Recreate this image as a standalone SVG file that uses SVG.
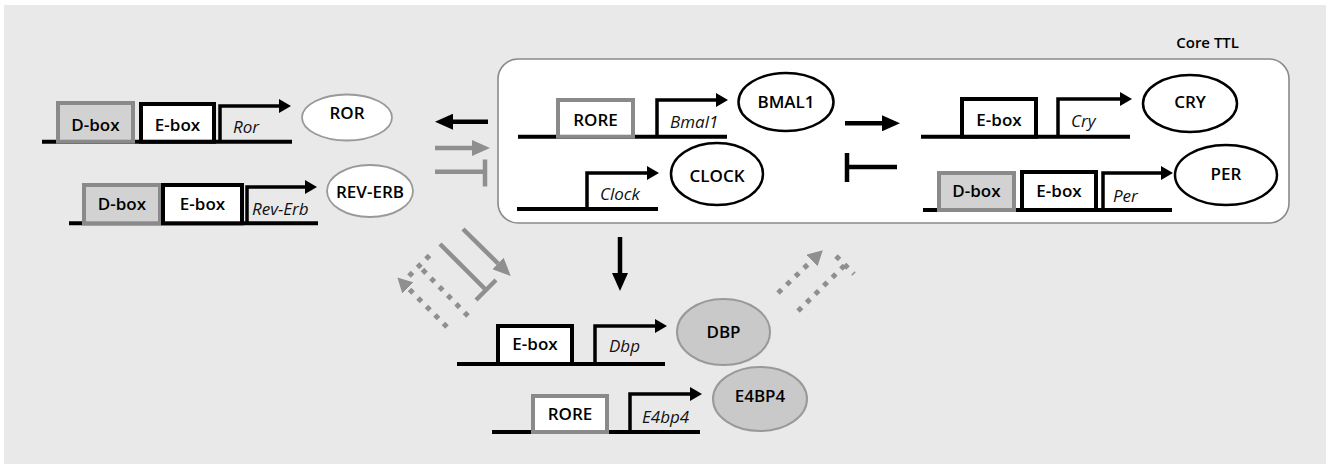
<svg xmlns="http://www.w3.org/2000/svg" width="1330" height="465" viewBox="0 0 1330 465">
<style>
.bg{fill:#e9e9ea}
.dna{stroke:#000;stroke-width:4;fill:none}
.prom{stroke:#000;stroke-width:3.5;fill:none}
.ebox{fill:#fff;stroke:#000;stroke-width:4}
.dbox{fill:#d2d2d2;stroke:#8a8a8a;stroke-width:4}
.rore{fill:#fff;stroke:#8a8a8a;stroke-width:4}
.lbl{font-family:"Open Sans","Noto Sans",sans-serif;font-weight:600;font-size:17px;fill:#000;text-anchor:middle}
.gene{font-family:"Open Sans","Noto Sans",sans-serif;font-style:italic;font-size:17px;fill:#111}
.pw{fill:#fff;stroke:#999;stroke-width:1.8}
.pb{fill:#fff;stroke:#000;stroke-width:2.5}
.pg{fill:#c9c9c9;stroke:#999;stroke-width:2}
.blk{stroke:#000;stroke-width:4.5;fill:none}
.gry{stroke:#8f8f8f;stroke-width:4.5;fill:none}
.dot{stroke:#8f8f8f;stroke-width:5;fill:none;stroke-dasharray:5 7}
</style>
<defs>
<marker id="ph" markerUnits="userSpaceOnUse" viewBox="0 0 12 14" refX="0" refY="7" markerWidth="12" markerHeight="14" orient="auto"><path d="M0,0 L12,7 L0,14 z" fill="#000"/></marker>
<marker id="bh" markerUnits="userSpaceOnUse" viewBox="0 0 18 16" refX="0" refY="8" markerWidth="18" markerHeight="16" orient="auto"><path d="M0,0 L18,8 L0,16 z" fill="#000"/></marker>
<marker id="gh" markerUnits="userSpaceOnUse" viewBox="0 0 18 16" refX="0" refY="8" markerWidth="18" markerHeight="16" orient="auto"><path d="M0,0 L18,8 L0,16 z" fill="#8f8f8f"/></marker>
<marker id="gdh" markerUnits="userSpaceOnUse" viewBox="0 0 15 16" refX="0" refY="8" markerWidth="15" markerHeight="16" orient="auto"><path d="M0,0 L15,8 L0,16 z" fill="#8f8f8f"/></marker>
</defs>
<rect class="bg" x="4" y="5" width="1322" height="459"/>

<text x="1239" y="48" style="font-family:'Open Sans','Noto Sans',sans-serif;font-weight:600;font-size:15px;text-anchor:end">Core TTL</text>
<rect id="core-ttl" x="498" y="59" width="791" height="164" rx="20" fill="#fff" stroke="#8a8a8a" stroke-width="1.6"/>

<g id="ror-gene">
<line class="dna" x1="42" y1="141.7" x2="292" y2="141.7"/>
<rect class="dbox" x="58" y="103" width="75" height="38.7"/>
<rect class="ebox" x="141" y="104" width="73" height="37.7"/>
<path class="prom" d="M220,141.7 V106 H279" marker-end="url(#ph)"/>
<text class="lbl" x="95.5" y="131">D-box</text>
<text class="lbl" x="177.5" y="131">E-box</text>
<text class="gene" x="233" y="133">Ror</text>
</g>
<g id="ror">
<ellipse class="pw" cx="347" cy="117.5" rx="45" ry="23"/>
<text class="lbl" x="347" y="118.5">ROR</text>
</g>

<g id="reverb-gene">
<line class="dna" x1="69" y1="223.3" x2="318" y2="223.3"/>
<rect class="dbox" x="84" y="185" width="76" height="38.3"/>
<rect class="ebox" x="163" y="185" width="79" height="38.3"/>
<path class="prom" d="M247,223.3 V187 H305" marker-end="url(#ph)"/>
<text class="lbl" x="122" y="210">D-box</text>
<text class="lbl" x="202.5" y="210">E-box</text>
<text class="gene" x="252" y="215">Rev-Erb</text>
</g>
<g id="reverb">
<ellipse class="pw" cx="370" cy="191" rx="43" ry="26"/>
<text class="lbl" x="370" y="198">REV-ERB</text>
</g>

<g id="bmal1-gene">
<line class="dna" x1="518" y1="136.7" x2="727" y2="136.7"/>
<rect class="rore" x="558" y="100" width="75" height="36.7"/>
<path class="prom" d="M657,136.7 V100 H716" marker-end="url(#ph)"/>
<text class="lbl" x="595.5" y="125.7">RORE</text>
<text class="gene" x="670" y="128">Bmal1</text>
</g>
<g id="bmal1">
<ellipse class="pb" cx="786" cy="102" rx="47.5" ry="29"/>
<text class="lbl" x="786" y="108">BMAL1</text>
</g>

<g id="clock-gene">
<line class="dna" x1="517" y1="209" x2="658" y2="209"/>
<path class="prom" d="M587,209 V173 H647" marker-end="url(#ph)"/>
<text class="gene" x="600" y="200">Clock</text>
</g>
<g id="clock">
<ellipse class="pb" cx="717" cy="174" rx="46" ry="31"/>
<text class="lbl" x="717" y="182">CLOCK</text>
</g>

<g id="cry-gene">
<line class="dna" x1="921" y1="136.7" x2="1130" y2="136.7"/>
<rect class="ebox" x="962" y="99" width="74" height="37.7"/>
<path class="prom" d="M1058,136.7 V99 H1120" marker-end="url(#ph)"/>
<text class="lbl" x="999" y="125.7">E-box</text>
<text class="gene" x="1071" y="127">Cry</text>
</g>
<g id="cry">
<ellipse class="pb" cx="1190" cy="103.5" rx="47" ry="28.5"/>
<text class="lbl" x="1190" y="108">CRY</text>
</g>

<g id="per-gene">
<line class="dna" x1="923" y1="210" x2="1172" y2="210"/>
<rect class="dbox" x="939" y="173" width="75" height="37"/>
<rect class="ebox" x="1022" y="172" width="74" height="38"/>
<path class="prom" d="M1103,210 V173 H1161" marker-end="url(#ph)"/>
<text class="lbl" x="976.5" y="197">D-box</text>
<text class="lbl" x="1059" y="196.7">E-box</text>
<text class="gene" x="1113" y="202">Per</text>
</g>
<g id="per">
<ellipse class="pb" cx="1226" cy="175" rx="51" ry="30"/>
<text class="lbl" x="1226" y="180">PER</text>
</g>

<g id="dbp-gene">
<line class="dna" x1="457" y1="364" x2="665" y2="364"/>
<rect class="ebox" x="498" y="326" width="74" height="38"/>
<path class="prom" d="M595,364 V326 H655" marker-end="url(#ph)"/>
<text class="lbl" x="535" y="350">E-box</text>
<text class="gene" x="609" y="352">Dbp</text>
</g>
<g id="dbp">
<ellipse class="pg" cx="723.5" cy="332" rx="46.5" ry="33"/>
<text class="lbl" x="723.5" y="338">DBP</text>
</g>

<g id="e4bp4-gene">
<line class="dna" x1="492" y1="432" x2="700" y2="432"/>
<rect class="rore" x="533" y="396" width="74" height="36"/>
<path class="prom" d="M630,432 V394 H690" marker-end="url(#ph)"/>
<text class="lbl" x="570" y="420">RORE</text>
<text class="gene" x="642" y="423">E4bp4</text>
</g>
<g id="e4bp4">
<ellipse class="pg" cx="760" cy="399" rx="47" ry="32"/>
<text class="lbl" x="760" y="402">E4BP4</text>
</g>

<g id="connectors">
<line class="blk" x1="488" y1="121.7" x2="453" y2="121.7" marker-end="url(#bh)"/>
<line class="gry" x1="435" y1="148" x2="472" y2="148" marker-end="url(#gh)"/>
<line class="gry" x1="435" y1="171.7" x2="485" y2="171.7"/>
<line class="gry" x1="485" y1="159.5" x2="485" y2="186.5"/>
<line class="blk" x1="845" y1="123.3" x2="882" y2="123.3" marker-end="url(#bh)"/>
<line class="blk" x1="897" y1="167" x2="847" y2="167"/>
<line class="blk" x1="847" y1="153" x2="847" y2="182"/>
<line class="blk" x1="620" y1="237" x2="620" y2="273" marker-end="url(#bh)"/>
<line class="gry" x1="463" y1="229" x2="498" y2="263.5" marker-end="url(#gh)"/>
<line class="gry" x1="440" y1="244" x2="486" y2="290"/>
<line class="gry" x1="476" y1="300" x2="496" y2="280"/>
<line class="dot" x1="447" y1="327" x2="408" y2="288" marker-end="url(#gdh)"/>
<line class="dot" x1="468" y1="316" x2="419" y2="266"/>
<line class="dot" x1="409" y1="276" x2="430" y2="255"/>
<line class="dot" x1="778" y1="293" x2="812" y2="260.5" marker-end="url(#gdh)"/>
<line class="dot" x1="798" y1="311" x2="845" y2="265"/>
<line class="dot" x1="836" y1="256" x2="854" y2="274"/>
</g>
</svg>
